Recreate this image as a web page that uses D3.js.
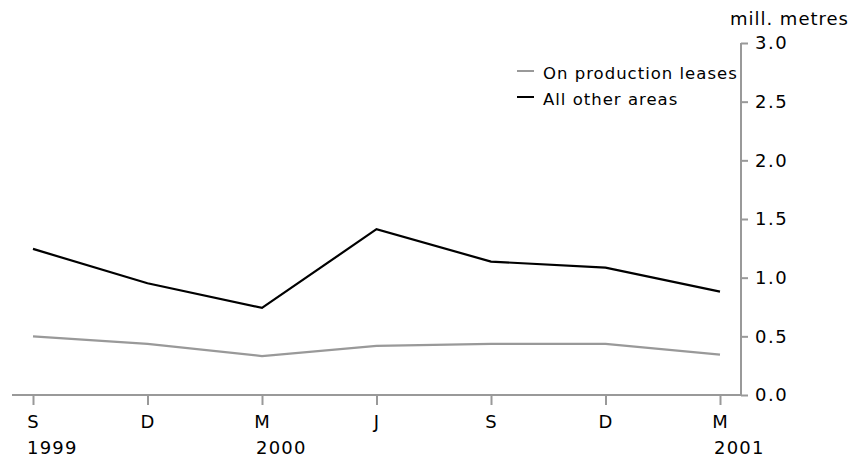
<!DOCTYPE html>
<html>
<head>
<meta charset="utf-8">
<script src="https://cdn.jsdelivr.net/npm/d3@7"></script>
<style>
  html, body { margin: 0; padding: 0; background: #fff; }
  svg { display: block; }
  text { font-family: "DejaVu Sans", sans-serif; fill: #000; }
</style>
</head>
<body>
<script>
const months = ["S", "D", "M", "J", "S", "D", "M"];
const years = ["1999", "", "2000", "", "", "", "2001"];
const productionLeases = [0.50, 0.435, 0.332, 0.418, 0.435, 0.435, 0.344];
const otherAreas = [1.245, 0.952, 0.742, 1.413, 1.137, 1.085, 0.881];
const yTicks = [0.0, 0.5, 1.0, 1.5, 2.0, 2.5, 3.0];
const seriesNames = ["On production leases", "All other areas"];
const seriesColors = ["#999999", "#000000"];

const W = 858, H = 458;
const svg = d3.select("body").append("svg").attr("width", W).attr("height", H);

const x = d3.scalePoint().domain(d3.range(months.length)).range([33, 720]);
const y = d3.scaleLinear().domain([0, 3]).range([395, 43]);
const axisX0 = 12, axisX1 = 741;
const axisColor = "#999999";

// x axis
svg.append("line").attr("x1", axisX0).attr("x2", axisX1)
  .attr("y1", y(0)).attr("y2", y(0))
  .attr("stroke", axisColor).attr("stroke-width", 2);
const xg = svg.append("g").attr("transform", `translate(0,${y(0)})`)
  .call(d3.axisBottom(x).tickSize(10).tickFormat(i => months[i]));
xg.select(".domain").remove();
xg.selectAll(".tick line").attr("stroke", axisColor).attr("stroke-width", 2);
xg.selectAll(".tick text").attr("y", 0).attr("dy", null)
  .attr("transform", "translate(0,33)")
  .style("font-size", "18px").style("letter-spacing", "1px")
  .style("font-family", "'DejaVu Sans', sans-serif").attr("fill", "#000");
// year labels
svg.append("g").selectAll("text").data(years.map((t, i) => ({t, i})).filter(d => d.t))
  .join("text")
  .attr("x", d => x(d.i) - 6).attr("y", 454)
  .style("font-size", "18px").style("letter-spacing", "1.2px")
  .text(d => d.t);

// y axis
const yg = svg.append("g").attr("transform", `translate(${axisX1},0)`)
  .call(d3.axisRight(y).tickValues(yTicks).tickSize(7).tickFormat(d3.format(".1f")));
yg.select(".domain").attr("stroke", axisColor).attr("stroke-width", 2)
  .attr("d", `M0,${y(0)}V${y(3)}`);
yg.selectAll(".tick line").attr("stroke", axisColor).attr("stroke-width", 2);
yg.selectAll(".tick text").attr("x", 14)
  .style("font-size", "18px").style("letter-spacing", "1.5px")
  .style("font-family", "'DejaVu Sans', sans-serif").attr("fill", "#000");

svg.append("text").attr("x", 849).attr("y", 25).attr("text-anchor", "end")
  .style("font-size", "18px").style("letter-spacing", "1px")
  .text("mill. metres");

// lines
const line = d3.line().x((d, i) => x(i)).y(d => y(d));
[productionLeases, otherAreas].forEach((s, k) => {
  svg.append("path").datum(s).attr("d", line)
    .attr("fill", "none").attr("stroke", seriesColors[k])
    .attr("stroke-width", 2.2).attr("stroke-linejoin", "miter");
});

// legend
const lg = svg.append("g");
seriesNames.forEach((n, k) => {
  const ly = 71 + k * 26;
  lg.append("line").attr("x1", 517).attr("x2", 534).attr("y1", ly).attr("y2", ly)
    .attr("stroke", seriesColors[k]).attr("stroke-width", 2);
  lg.append("text").attr("x", 543).attr("y", ly + 8)
    .style("font-size", "16.5px").style("letter-spacing", "1px")
    .text(n);
});
</script>
</body>
</html>
